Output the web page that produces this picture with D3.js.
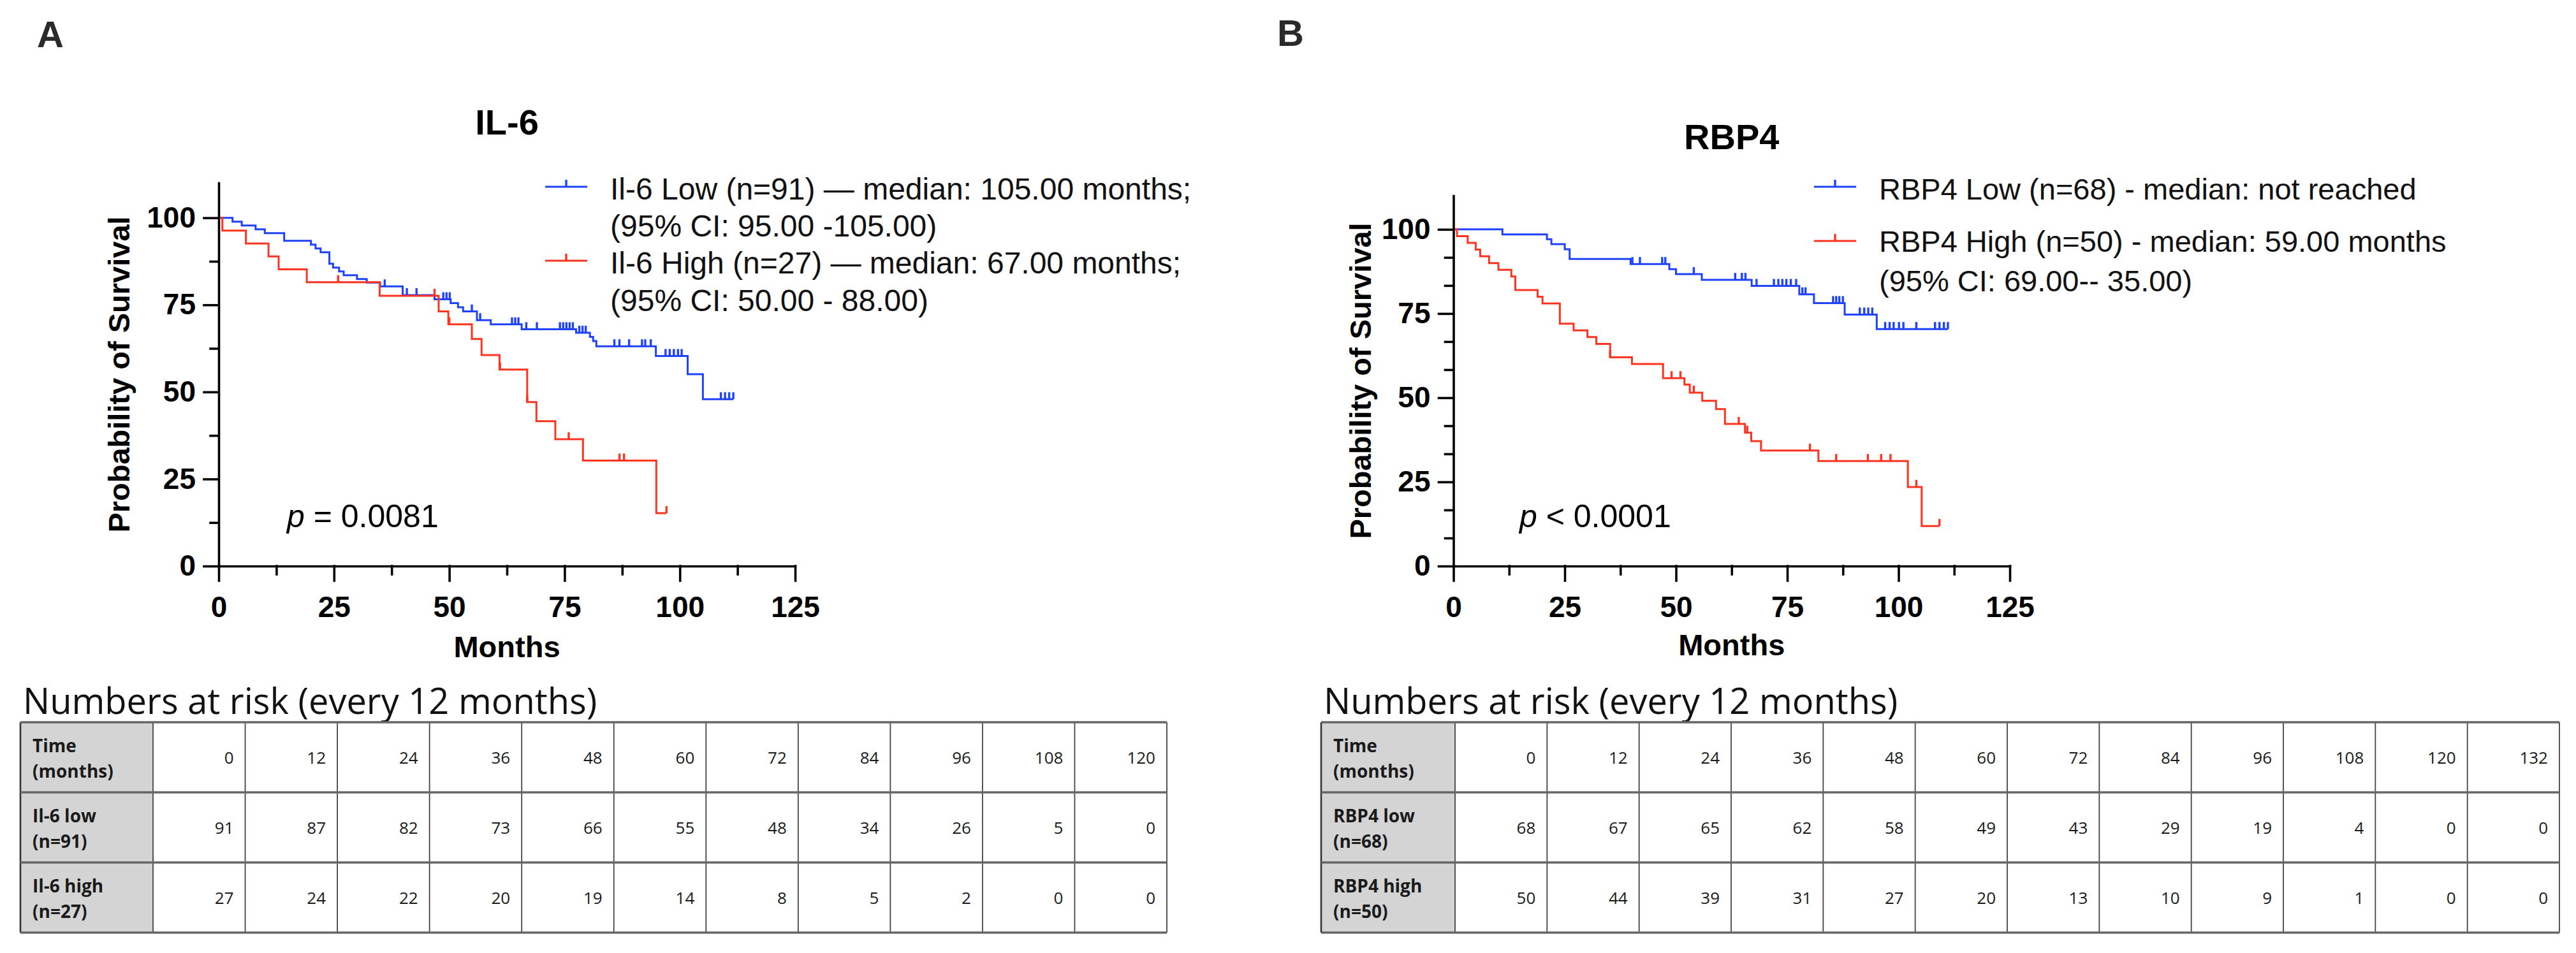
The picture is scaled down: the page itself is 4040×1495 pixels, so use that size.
<!DOCTYPE html>
<html>
<head>
<meta charset="utf-8">
<script src="https://cdn.jsdelivr.net/npm/d3@7"></script>
<style>
  body { margin: 0; background: #fff; }
  svg { display: block; }
</style>
</head>
<body>
<svg id="chart" width="4040" height="1495"></svg>
<script>
// ---------- data ----------
const xTicks = [0, 25, 50, 75, 100, 125];
const xMinor = [12.5, 37.5, 62.5, 87.5, 112.5];
const yTicks = [0, 25, 50, 75, 100];
const yMinorA = [12.5, 37.5, 62.5, 87.5];
const yMinorB = [8.33, 16.67, 33.33, 41.67, 58.33, 66.67, 83.33, 91.67];

// steps: [month, survival % after the drop]
const il6LowSteps = [[3, 98.9], [5, 97.8], [8, 96.7], [10, 95.6], [14.2, 93.4], [20, 92.3], [21, 91.2],
  [22.1, 90.1], [24, 86.8], [24.8, 85.7], [26.1, 84.6], [27.1, 83.5], [30, 82.4], [32.1, 81.4],
  [35, 80.3], [39.9, 77.8], [46.8, 76.6], [50.3, 75.5], [51.9, 74.3], [53, 73.1], [56, 70.6],
  [59, 69.4], [65.7, 68.0], [77.5, 67.0], [80.5, 65.8], [81.2, 64.6], [81.9, 63.1], [94.8, 60.3],
  [101.7, 55.1], [105, 47.9]];
const il6LowCensored = [36, 40.8, 42.9, 48.7, 49.4, 50.1, 54.9, 56.7, 63.6, 64.3, 65.0, 66.7, 69.0,
  74.0, 74.7, 75.4, 76.1, 76.8, 78.2, 78.9, 79.6, 85.8, 86.9, 89.0, 91.8, 92.5, 93.7, 96.9, 97.8,
  98.7, 99.6, 100.4, 108.9, 109.8, 110.7, 111.6];

const il6HighSteps = [[0.8, 96.3], [5.9, 92.6], [10.8, 88.9], [13, 85.2], [19.1, 81.5], [34.9, 77.6],
  [47.7, 73.1], [49.8, 69.4], [54.9, 65.2], [57, 60.6], [60.9, 56.4], [66.9, 47.1], [68.9, 41.6],
  [73, 36.4], [79, 30.3], [94.9, 15.2]];
const il6HighCensored = [25.9, 46.8, 50.0, 61.0, 66.9, 75.9, 86.9, 87.9, 97.1];

const rbp4LowSteps = [[11, 98.5], [21, 97.1], [22, 95.6], [25, 94.1], [26.1, 91.2], [39.8, 89.7],
  [48.5, 88.2], [50, 86.7], [55.8, 85.0], [67, 83.2], [77.7, 80.7], [81, 78.1], [87.9, 74.7],
  [95.1, 70.4]];
const rbp4LowCensored = [40.2, 41.9, 46.9, 47.6, 54.0, 63.3, 64.8, 65.6, 68.1, 72.0, 73.0, 73.9, 74.8,
  75.8, 77.0, 78.4, 79.1, 85.3, 86.0, 86.7, 87.5, 91.3, 92.3, 93.2, 94.1, 97.0, 98.0, 98.9, 100.1,
  101.1, 104.0, 108.2, 109.2, 110.2, 111.1];

const rbp4HighSteps = [[0.8, 98], [3.2, 96], [5, 94], [6, 92], [8, 90], [10.1, 88], [13, 86],
  [13.9, 82], [18.9, 80], [20, 78], [23.9, 72], [27, 70], [30.1, 68], [32.1, 66], [35.2, 62],
  [40.1, 60], [47.1, 55.8], [51.9, 53.9], [53.1, 51.5], [55.9, 49.1], [59, 46.6], [61, 42.2],
  [65.5, 39.6], [66.9, 37.1], [69.1, 34.3], [82, 31.2], [102.1, 23.5], [105.2, 11.9]];
const rbp4HighCensored = [35.2, 49.0, 51.0, 54.0, 64.1, 66.0, 80.1, 86.0, 93.1, 96.1, 98.2, 104.0, 109.2];

const legendA = [
  ["Il-6 Low (n=91) \u2014 median: 105.00 months;", "(95% CI: 95.00 -105.00)"],
  ["Il-6 High (n=27) \u2014 median: 67.00 months;", "(95% CI: 50.00 - 88.00)"]
];
const legendB = [
  ["RBP4 Low (n=68) - median: not reached"],
  ["RBP4 High (n=50) - median: 59.00 months", "(95% CI: 69.00-- 35.00)"]
];

// numbers at risk
const riskTimesA = [0, 12, 24, 36, 48, 60, 72, 84, 96, 108, 120];
const riskIl6Low = [91, 87, 82, 73, 66, 55, 48, 34, 26, 5, 0];
const riskIl6High = [27, 24, 22, 20, 19, 14, 8, 5, 2, 0, 0];
const riskLabelsA = [["Time", "(months)"], ["Il-6 low", "(n=91)"], ["Il-6 high", "(n=27)"]];

const riskTimesB = [0, 12, 24, 36, 48, 60, 72, 84, 96, 108, 120, 132];
const riskRbp4Low = [68, 67, 65, 62, 58, 49, 43, 29, 19, 4, 0, 0];
const riskRbp4High = [50, 44, 39, 31, 27, 20, 13, 10, 9, 1, 0, 0];
const riskLabelsB = [["Time", "(months)"], ["RBP4 low", "(n=68)"], ["RBP4 high", "(n=50)"]];

// ---------- drawing ----------
const BLUE = "#1f42ff", RED = "#ff3320";
const ARIAL = "'Liberation Sans', Arial, sans-serif";
const OPEN = "'Open Sans', sans-serif";

const svg = d3.select("#chart");
svg.append("rect").attr("width", 4040).attr("height", 1495).attr("fill", "#fff");

function survivalAt(steps, t) {
  let s = 100;
  steps.forEach(([m, v]) => { if (m <= t) s = v; });
  return s;
}

function drawPanel(p) {
  const x = d3.scaleLinear().domain([0, 125]).range(p.xRange);
  const y = d3.scaleLinear().domain([0, 110]).range([888, p.yTop]);
  const g = svg.append("g");

  // panel letter + title
  g.append("text").attr("x", p.letterX).attr("y", p.letterY)
    .attr("font-family", ARIAL).attr("font-weight", "bold").attr("font-size", 58)
    .attr("fill", "#2a2a2a").text(p.letter);
  g.append("text").attr("x", (p.xRange[0] + p.xRange[1]) / 2).attr("y", p.titleY)
    .attr("text-anchor", "middle").attr("font-family", ARIAL).attr("font-weight", "bold")
    .attr("font-size", 56).text(p.title);

  // curves
  p.series.forEach(s => {
    const end = d3.max([d3.max(s.steps, d => d[0]), d3.max(s.censored)]);
    const pts = [[0, 100], ...s.steps, [end, s.steps[s.steps.length - 1][1]]];
    const line = d3.line().x(d => x(d[0])).y(d => y(d[1])).curve(d3.curveStepAfter);
    g.append("path").attr("d", line(pts)).attr("fill", "none")
      .attr("stroke", s.color).attr("stroke-width", 3);
    g.append("g").selectAll("line")
      .data(s.censored)
      .join("line")
      .attr("x1", d => x(d)).attr("x2", d => x(d))
      .attr("y1", d => y(survivalAt(s.steps, d)))
      .attr("y2", d => y(survivalAt(s.steps, d)) - 11)
      .attr("stroke", s.color).attr("stroke-width", 3.4);
  });

  // axes
  const yAxis = g.append("g").attr("transform", `translate(${x(0)},0)`)
    .call(d3.axisLeft(y).tickValues(yTicks).tickSize(23).tickPadding(13).tickSizeOuter(0));
  g.append("g").attr("transform", `translate(${x(0)},0)`)
    .call(d3.axisLeft(y).tickValues(p.yMinor).tickSize(13).tickFormat("").tickSizeOuter(0))
    .select(".domain").remove();
  const xAxis = g.append("g").attr("transform", `translate(0,${y(0)})`)
    .call(d3.axisBottom(x).tickValues(xTicks).tickSize(23).tickPadding(24).tickSizeOuter(0));
  g.append("g").attr("transform", `translate(0,${y(0)})`)
    .call(d3.axisBottom(x).tickValues(xMinor).tickSize(13).tickFormat("").tickSizeOuter(0))
    .select(".domain").remove();
  g.selectAll(".domain, .tick line").attr("stroke", "#000").attr("stroke-width", 3.6)
    .attr("stroke-linecap", "square");
  [yAxis, xAxis].forEach(a => a.selectAll(".tick text")
    .attr("font-family", ARIAL).attr("font-weight", "bold").attr("font-size", 46).attr("fill", "#000"));

  // axis titles
  g.append("text").attr("x", (p.xRange[0] + p.xRange[1]) / 2).attr("y", p.monthsY)
    .attr("text-anchor", "middle").attr("font-family", ARIAL).attr("font-weight", "bold")
    .attr("font-size", 47).text("Months");
  g.append("text")
    .attr("transform", `translate(${p.yLabelX},${(y(0) + y(110)) / 2}) rotate(-90)`)
    .attr("text-anchor", "middle").attr("font-family", ARIAL).attr("font-weight", "bold")
    .attr("font-size", 47).text("Probability of Survival");

  // p value
  const pt = g.append("text").attr("x", p.pX).attr("y", 827)
    .attr("font-family", ARIAL).attr("font-size", 50);
  pt.append("tspan").attr("font-style", "italic").text("p");
  pt.append("tspan").text(p.pText);

  // legend
  p.legend.forEach((lines, i) => {
    const ly = p.legendLineY[i];
    g.append("line").attr("x1", p.legendX).attr("x2", p.legendX + 66)
      .attr("y1", ly).attr("y2", ly).attr("stroke", p.series[i].color).attr("stroke-width", 3);
    g.append("line").attr("x1", p.legendX + 33).attr("x2", p.legendX + 33)
      .attr("y1", ly).attr("y2", ly - 11).attr("stroke", p.series[i].color).attr("stroke-width", 3.4);
    g.append("g").selectAll("text")
      .data(lines)
      .join("text")
      .attr("x", p.legendX + 102)
      .attr("y", (d, j) => p.legendTextY[i][j])
      .attr("font-family", ARIAL).attr("font-size", p.legendSize).attr("fill", "#111")
      .text(d => d);
  });
}

function drawRiskTable(t) {
  const g = svg.append("g");
  const rowKeys = [0, 1, 2];
  const rows = d3.scaleBand().domain(rowKeys).range([1133, 1463]);
  const cols = d3.scaleBand().domain(t.times).range([t.x0 + t.headW, t.x1]);
  const values = [t.times, t.low, t.high];

  g.append("text").attr("x", t.x0 + 4).attr("y", 1120)
    .attr("font-family", OPEN).attr("font-size", 56).attr("fill", "#111")
    .text("Numbers at risk (every 12 months)");

  // header cells
  g.selectAll("rect.head").data(rowKeys).join("rect")
    .attr("x", t.x0).attr("y", d => rows(d)).attr("width", t.headW).attr("height", rows.bandwidth())
    .attr("fill", "#d4d4d4");

  // header labels
  g.selectAll("text.head").data(rowKeys).join("text")
    .attr("x", t.x0 + 19).attr("y", d => rows(d) + 47)
    .attr("font-family", OPEN).attr("font-weight", "bold").attr("font-size", 28).attr("fill", "#1a1a1a")
    .selectAll("tspan").data(d => t.labels[d]).join("tspan")
    .attr("x", t.x0 + 19).attr("dy", (d, j) => j ? 40 : 0).text(d => d);

  // numbers
  rowKeys.forEach(r => {
    g.append("g").selectAll("text").data(values[r].map((v, i) => ({ v, time: t.times[i] }))).join("text")
      .attr("x", d => cols(d.time) + cols.bandwidth() - 18)
      .attr("y", rows(r) + rows.bandwidth() / 2 + 9.5)
      .attr("text-anchor", "end").attr("font-family", OPEN).attr("font-size", 26).attr("fill", "#1a1a1a")
      .text(d => d.v);
  });

  // vertical rules
  g.selectAll("line.col").data(t.times).join("line")
    .attr("x1", d => cols(d)).attr("x2", d => cols(d))
    .attr("y1", 1133).attr("y2", 1463).attr("stroke", "#444").attr("stroke-width", 1.8);
  g.append("line").attr("x1", t.x1).attr("x2", t.x1).attr("y1", 1133).attr("y2", 1463)
    .attr("stroke", "#444").attr("stroke-width", 1.8);
  g.append("line").attr("x1", t.x0).attr("x2", t.x0).attr("y1", 1133).attr("y2", 1463)
    .attr("stroke", "#333").attr("stroke-width", 2.6);

  // horizontal rules
  g.selectAll("line.row").data([...rowKeys.map(r => rows(r)), 1463]).join("line")
    .attr("x1", t.x0).attr("x2", t.x1).attr("y1", d => d).attr("y2", d => d)
    .attr("stroke", "#666").attr("stroke-width", 3.4);
}

drawPanel({
  letter: "A", letterX: 58, letterY: 74, title: "IL-6", titleY: 211,
  xRange: [343, 1247], yTop: 287, yMinor: yMinorA, monthsY: 1031, yLabelX: 203,
  pX: 450, pText: " = 0.0081",
  series: [
    { steps: il6LowSteps, censored: il6LowCensored, color: BLUE },
    { steps: il6HighSteps, censored: il6HighCensored, color: RED }
  ],
  legend: legendA, legendX: 855, legendLineY: [293, 409],
  legendTextY: [[313, 371], [429, 488]], legendSize: 48
});

drawPanel({
  letter: "B", letterX: 2003, letterY: 72, title: "RBP4", titleY: 234,
  xRange: [2279.5, 3152], yTop: 307, yMinor: yMinorB, monthsY: 1028, yLabelX: 2150,
  pX: 2383, pText: " < 0.0001",
  series: [
    { steps: rbp4LowSteps, censored: rbp4LowCensored, color: BLUE },
    { steps: rbp4HighSteps, censored: rbp4HighCensored, color: RED }
  ],
  legend: legendB, legendX: 2845, legendLineY: [293, 378],
  legendTextY: [[313], [395, 457]], legendSize: 47
});

drawRiskTable({ x0: 32, headW: 208, x1: 1830, times: riskTimesA, low: riskIl6Low, high: riskIl6High, labels: riskLabelsA });
drawRiskTable({ x0: 2072, headW: 210, x1: 4014, times: riskTimesB, low: riskRbp4Low, high: riskRbp4High, labels: riskLabelsB });
</script>
</body>
</html>
